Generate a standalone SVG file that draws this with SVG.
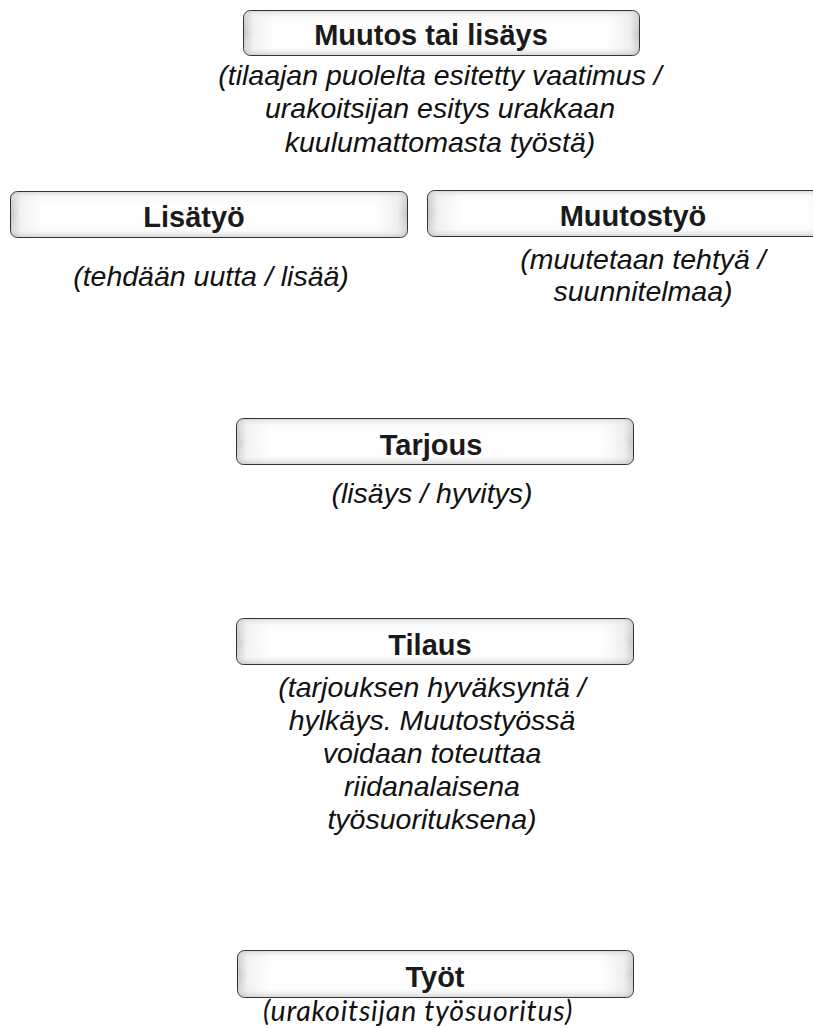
<svg xmlns="http://www.w3.org/2000/svg" width="813" height="1028" viewBox="0 0 813 1028">
<defs>
<linearGradient id="gh" x1="0" y1="0" x2="1" y2="0">
<stop offset="0" stop-color="#c4c4c4"/>
<stop offset="0.025" stop-color="#f0f0f0"/>
<stop offset="0.08" stop-color="#ffffff"/>
<stop offset="0.92" stop-color="#ffffff"/>
<stop offset="0.975" stop-color="#eeeeee"/>
<stop offset="1" stop-color="#c4c4c4"/>
</linearGradient>
<linearGradient id="gv" x1="0" y1="0" x2="0" y2="1">
<stop offset="0" stop-color="#cfcfcf" stop-opacity="0.7"/>
<stop offset="0.12" stop-color="#f0f0f0" stop-opacity="0.3"/>
<stop offset="0.5" stop-color="#ffffff" stop-opacity="0"/>
<stop offset="0.85" stop-color="#f4f4f4" stop-opacity="0.3"/>
<stop offset="1" stop-color="#bdbdbd" stop-opacity="0.6"/>
</linearGradient>
</defs>
<style>
.box{fill:url(#gh);stroke:#333;stroke-width:1}
.sheen{fill:url(#gv);stroke:none}
.t{font-family:"Liberation Sans",Arial,sans-serif;font-weight:bold;font-size:29px;fill:#1a1a1a;text-anchor:middle}
.s{font-family:"Liberation Sans",Arial,sans-serif;font-style:italic;font-size:28.5px;fill:#111;text-anchor:middle}
.c{font-family:Lato,"Open Sans",sans-serif;font-style:italic;font-size:28.5px;letter-spacing:0.8px;fill:#111;text-anchor:middle}
</style>
<rect width="813" height="1028" fill="#fff"/>
<g id="connectors"/>
<g id="node-muutos">
<rect class="box" x="243.5" y="10.5" width="396" height="45" rx="7"/>
<rect class="sheen" x="244" y="11" width="395" height="44" rx="7"/>
<text class="t" x="431" y="45">Muutos tai lisäys</text>
<text class="s" x="440" y="85">(tilaajan puolelta esitetty vaatimus /</text>
<text class="s" x="440" y="118">urakoitsijan esitys urakkaan</text>
<text class="s" x="440" y="152">kuulumattomasta työstä)</text>
</g>
<g id="node-lisatyo">
<rect class="box" x="10.5" y="191.5" width="397" height="46" rx="7"/>
<rect class="sheen" x="11" y="192" width="396" height="45" rx="7"/>
<text class="t" x="194" y="227">Lisätyö</text>
<text class="s" x="211" y="286">(tehdään uutta / lisää)</text>
</g>
<g id="node-muutostyo">
<rect class="box" x="427.5" y="190.5" width="412" height="46" rx="7"/>
<rect class="sheen" x="428" y="191" width="411" height="45" rx="7"/>
<text class="t" x="633" y="226">Muutostyö</text>
<text class="s" x="643" y="269">(muutetaan tehtyä /</text>
<text class="s" x="643" y="301">suunnitelmaa)</text>
</g>
<g id="node-tarjous">
<rect class="box" x="236.5" y="418.5" width="397" height="46" rx="7"/>
<rect class="sheen" x="237" y="419" width="396" height="45" rx="7"/>
<text class="t" x="431" y="455">Tarjous</text>
<text class="s" x="432" y="503">(lisäys / hyvitys)</text>
</g>
<g id="node-tilaus">
<rect class="box" x="236.5" y="618.5" width="397" height="46" rx="7"/>
<rect class="sheen" x="237" y="619" width="396" height="45" rx="7"/>
<text class="t" x="430" y="655">Tilaus</text>
<text class="s" x="432" y="697">(tarjouksen hyväksyntä /</text>
<text class="s" x="432" y="730">hylkäys. Muutostyössä</text>
<text class="s" x="432" y="763">voidaan toteuttaa</text>
<text class="s" x="432" y="796">riidanalaisena</text>
<text class="s" x="432" y="829">työsuorituksena)</text>
</g>
<g id="node-tyot">
<rect class="box" x="237.5" y="950.5" width="396" height="47" rx="7"/>
<rect class="sheen" x="238" y="951" width="395" height="46" rx="7"/>
<text class="t" x="435" y="987">Työt</text>
<text class="c" x="418" y="1021">(urakoitsijan työsuoritus)</text>
</g>
</svg>
